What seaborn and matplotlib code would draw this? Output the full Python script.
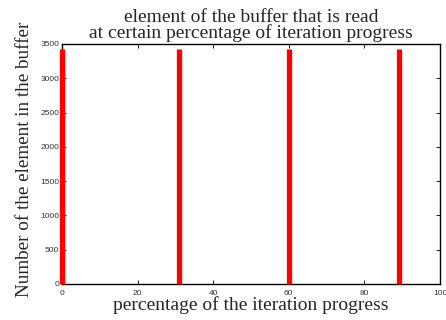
import matplotlib
matplotlib.use("Agg")
import matplotlib.pyplot as plt
import seaborn as sns
import pandas as pd

# iteration progress (%) at which the buffer is read, and the element range read
read_progress = [0.0, 30.9, 60.0, 89.1]
first_element = [0, 0, 0, 0]
last_element = [3420, 3420, 3420, 3420]

x_ticks = [0, 20, 40, 60, 80, 100]
y_ticks = [0, 500, 1000, 1500, 2000, 2500, 3000, 3500]

rows = []
for i, (p, lo, hi) in enumerate(zip(read_progress, first_element, last_element)):
    rows.append({"read": i, "progress": p, "element": lo})
    rows.append({"read": i, "progress": p, "element": hi})
df = pd.DataFrame(rows)

sns.set_style("white")
plt.rcParams["font.family"] = ["Liberation Serif", "DejaVu Serif"]

fig = plt.figure(figsize=(4.46, 3.20), dpi=100)
ax = fig.add_axes([0.139, 0.1125, 0.8475, 0.75])

sns.lineplot(data=df, x="progress", y="element", units="read", estimator=None,
             sort=False, color="red", linewidth=3.8, solid_capstyle="butt",
             legend=False, ax=ax)
for ln in ax.lines:
    ln.set_clip_on(False)
    ln.set_zorder(5)

ax.set_xlim(0, 100)
ax.set_ylim(0, 3500)
ax.set_xticks(x_ticks)
ax.set_yticks(y_ticks)
ax.set_xticklabels([str(t) for t in x_ticks], fontfamily="Liberation Sans",
                   fontsize=6, color="#333333")
ax.set_yticklabels([str(t) for t in y_ticks], fontfamily="Liberation Sans",
                   fontsize=6, color="#333333")
ax.tick_params(direction="in", length=3, width=0.6, top=True, right=True,
               bottom=True, left=True, color="black")
ax.tick_params(axis="x", pad=4)
ax.tick_params(axis="y", pad=2)
for s in ax.spines.values():
    s.set_visible(True)
    s.set_color("black")
    s.set_linewidth(1.0)

ax.set_xlabel("percentage of the iteration progress", fontsize=14, labelpad=0)
ax.set_ylabel("Number of the element in the buffer", fontsize=13.8, labelpad=6)
ax.yaxis.set_label_coords(-0.076, 0.52)
ax.set_title("element of the buffer that is read\nat certain percentage of iteration progress",
             fontsize=14, linespacing=0.88, pad=4.5)

fig.savefig("out.png", dpi=100)
